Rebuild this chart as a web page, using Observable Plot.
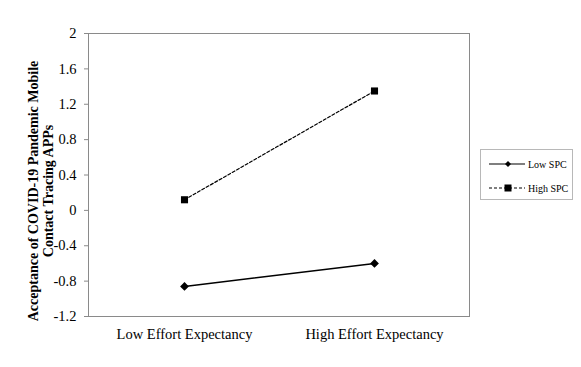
<!DOCTYPE html>
<html>
<head>
<meta charset="utf-8">
<script src="https://cdn.jsdelivr.net/npm/d3@7"></script>
<script src="https://cdn.jsdelivr.net/npm/@observablehq/plot@0.6"></script>
<style>
  body { margin: 0; background: #fff; }
  #wrap { position: relative; width: 581px; height: 367px; font-family: "Liberation Serif", "Times New Roman", serif; }
  #legend { position: absolute; left: 480px; top: 149px; width: 91px; height: 49px; border: 1px solid #b8b8b8; background: #fff; font-size: 10px; color: #000; }
  .item { position: absolute; left: 7px; height: 14px; display: flex; align-items: center; white-space: nowrap; }
  .item svg { display: block; }
  .item span { margin-left: 2px; }
</style>
</head>
<body>
<div id="wrap"></div>
<script>
const categories = ["Low Effort Expectancy", "High Effort Expectancy"];
const seriesNames = ["Low SPC", "High SPC"];
const lowSPC = [-0.86, -0.60];
const highSPC = [0.12, 1.35];
const yTicks = [-1.2, -0.8, -0.4, 0, 0.4, 0.8, 1.2, 1.6, 2];
const yTitle = "Acceptance of COVID-19 Pandemic Mobile\nContact Tracing APPs";

const data = [
  ...categories.map((c, i) => ({cat: c, v: lowSPC[i], s: seriesNames[0]})),
  ...categories.map((c, i) => ({cat: c, v: highSPC[i], s: seriesNames[1]}))
];

const diamond = {
  draw(ctx, size) {
    const r = Math.sqrt(size) * 0.62;
    ctx.moveTo(0, -r); ctx.lineTo(r, 0); ctx.lineTo(0, r); ctx.lineTo(-r, 0); ctx.closePath();
  }
};
const square = {
  draw(ctx, size) {
    const h = Math.sqrt(size) / 2;
    ctx.rect(-h, -h, 2 * h, 2 * h);
  }
};

const plot = Plot.plot({
  width: 581,
  height: 367,
  marginLeft: 88,
  marginRight: 112,
  marginTop: 33,
  marginBottom: 51,
  style: {fontFamily: "'Liberation Serif', 'Times New Roman', serif", fontSize: "14.5px", color: "#000", background: "#fff"},
  x: {type: "point", domain: categories, padding: 0.5, label: null},
  y: {domain: [-1.2, 2], label: null},
  marks: [
    Plot.frame({stroke: "#8a8a8a"}),
    Plot.axisY({ticks: yTicks, tickSize: 4, tickPadding: 8, stroke: "#8a8a8a", fontSize: 14.5,
      tickFormat: d => String(+d.toFixed(1)).replace("−", "-"), label: null}),
    Plot.axisX({tickSize: 0, tickPadding: 12, fontSize: 14.5, label: null}),
    Plot.line(data.filter(d => d.s === "Low SPC"), {x: "cat", y: "v", stroke: "#000", strokeWidth: 1.4}),
    Plot.line(data.filter(d => d.s === "High SPC"), {x: "cat", y: "v", stroke: "#000", strokeWidth: 1.2, strokeDasharray: "3,2"}),
    Plot.dot(data.filter(d => d.s === "Low SPC"), {x: "cat", y: "v", symbol: diamond, r: 4, fill: "#000", stroke: "none"}),
    Plot.dot(data.filter(d => d.s === "High SPC"), {x: "cat", y: "v", symbol: square, r: 4, fill: "#000", stroke: "none"}),
    Plot.text([yTitle], {frameAnchor: "left", textAnchor: "middle", rotate: -90, dx: -48, dy: 16, fontWeight: "bold", fontSize: 14, lineHeight: 1.1, fill: "#000"})
  ]
});

const wrap = document.getElementById("wrap");
wrap.appendChild(plot);

// legend
const legend = document.createElement("div");
legend.id = "legend";
const items = [
  {name: seriesNames[0], dash: null, marker: "diamond", top: 7},
  {name: seriesNames[1], dash: "3,2", marker: "square", top: 31}
];
for (const it of items) {
  const div = document.createElement("div");
  div.className = "item";
  div.style.top = it.top + "px";
  const svg = d3.create("svg").attr("width", 38).attr("height", 14);
  svg.append("line").attr("x1", 1).attr("x2", 37).attr("y1", 7).attr("y2", 7)
    .attr("stroke", "#000").attr("stroke-width", 1.2).attr("stroke-dasharray", it.dash);
  if (it.marker === "diamond") {
    svg.append("path").attr("d", "M20,4 L23,7 L20,10 L17,7 Z").attr("fill", "#000");
  } else {
    svg.append("rect").attr("x", 16.5).attr("y", 3.5).attr("width", 7).attr("height", 7).attr("fill", "#000");
  }
  div.appendChild(svg.node());
  const span = document.createElement("span");
  span.textContent = it.name;
  div.appendChild(span);
  legend.appendChild(div);
}
wrap.appendChild(legend);
</script>
</body>
</html>
